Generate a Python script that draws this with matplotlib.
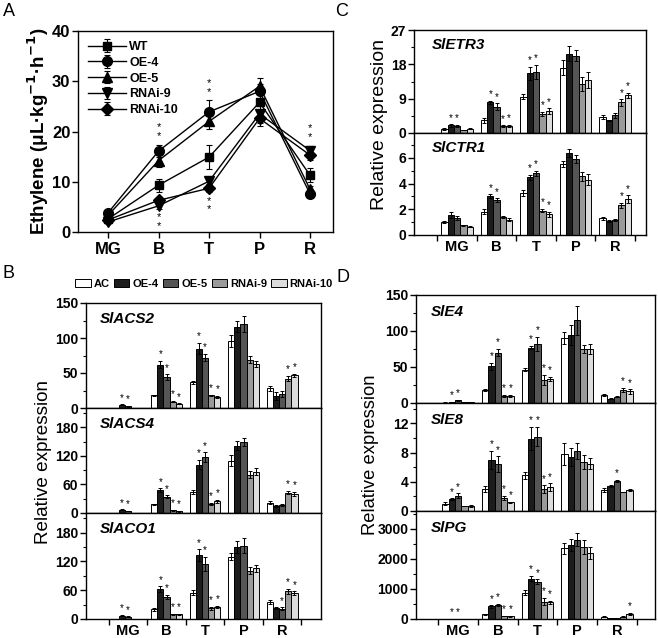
import matplotlib
matplotlib.use("Agg")
import matplotlib.pyplot as plt
import numpy as np
from matplotlib.ticker import AutoMinorLocator, FixedLocator
from matplotlib.patches import Patch

plt.rcParams['font.family'] = ['Liberation Sans', 'DejaVu Sans']
plt.rcParams['axes.linewidth'] = 1.0

# ---------------- data ----------------
stages = ['MG', 'B', 'T', 'P', 'R']
lines_a = ['WT', 'OE-4', 'OE-5', 'RNAi-9', 'RNAi-10']
lines_bar = ['AC', 'OE-4', 'OE-5', 'RNAi-9', 'RNAi-10']

# Panel A: ethylene
eth_wt = [2.6, 9.3, 14.9, 25.8, 11.3]
eth_oe4 = [3.8, 16.1, 23.9, 28.0, 7.6]
eth_oe5 = [3.3, 14.2, 22.0, 29.0, 8.5]
eth_r9 = [2.0, 5.2, 10.1, 23.5, 16.2]
eth_r10 = [2.4, 6.3, 8.7, 22.6, 15.3]
eth_wt_err = [0.4, 1.3, 2.4, 1.6, 1.4]
eth_oe4_err = [0.3, 1.2, 2.3, 1.5, 0.5]
eth_oe5_err = [0.3, 1.2, 1.6, 1.7, 0.6]
eth_r9_err = [0.3, 0.6, 0.8, 1.9, 1.0]
eth_r10_err = [0.3, 0.5, 0.8, 1.5, 1.0]
eth_star_above = [False, True, True, False, True]
eth_star_below = [False, True, True, False, False]

# Bar panels: rows = stages (MG,B,T,P,R), cols = AC, OE-4, OE-5, RNAi-9, RNAi-10
acs2 = [[0.5, 4.8, 2.5, 0.5, 0.3], [18, 62, 44, 9, 6], [37, 85, 72, 18, 16],
        [96, 116, 120, 69, 63], [28, 17, 20, 42, 47]]
acs2_err = [[0.2, 0.5, 0.4, 0.1, 0.1], [1, 5, 4, 1, 0.8], [2, 8, 5, 1, 1],
            [9, 8, 11, 5, 4], [4, 6, 4, 4, 2]]
acs2_star = [[0, 1, 1, 0, 0], [0, 1, 1, 1, 1], [0, 1, 1, 1, 1], [0, 0, 0, 0, 0], [0, 0, 0, 1, 1]]

acs4 = [[0.5, 7, 4, 0.5, 0.3], [18, 48, 34, 6, 4], [44, 102, 118, 19, 25],
        [110, 142, 149, 81, 87], [22, 14, 17, 43, 40]]
acs4_err = [[0.2, 1, 0.6, 0.1, 0.1], [1, 4, 3, 1, 1], [4, 10, 10, 2, 3],
            [12, 10, 9, 8, 7], [3, 2, 2, 4, 5]]
acs4_star = [[0, 1, 1, 0, 0], [0, 1, 1, 1, 1], [0, 1, 1, 1, 1], [0, 0, 0, 0, 0], [0, 0, 0, 1, 1]]

aco1 = [[0.5, 7, 5, 0.5, 0.3], [20, 62, 46, 10, 10], [55, 133, 115, 22, 25],
        [130, 150, 153, 101, 106], [36, 23, 21, 58, 54]]
aco1_err = [[0.2, 1, 0.6, 0.1, 0.1], [3, 6, 5, 1, 1], [5, 12, 14, 3, 3],
            [8, 12, 16, 8, 7], [4, 3, 3, 5, 4]]
aco1_star = [[0, 1, 1, 0, 0], [0, 1, 1, 1, 1], [0, 1, 1, 1, 1], [0, 0, 0, 0, 0], [0, 0, 1, 1, 1]]

etr3 = [[1.0, 2.0, 1.8, 0.8, 1.1], [3.3, 8.0, 6.9, 1.8, 1.9], [9.5, 15.6, 16.0, 5.0, 5.8],
        [17.1, 20.8, 20.3, 12.9, 13.9], [4.1, 3.3, 4.6, 8.0, 9.9]]
etr3_err = [[0.2, 0.3, 0.3, 0.1, 0.1], [0.6, 0.5, 0.9, 0.2, 0.2], [0.7, 1.8, 1.8, 0.6, 0.7],
            [2.0, 2.0, 1.5, 1.8, 2.2], [0.5, 0.2, 0.6, 0.8, 0.7]]
etr3_star = [[0, 1, 1, 0, 0], [0, 1, 1, 1, 1], [0, 1, 1, 1, 1], [0, 0, 0, 0, 0], [0, 0, 0, 1, 1]]

ctr1 = [[1.0, 1.55, 1.35, 0.75, 0.65], [1.8, 3.0, 2.7, 1.4, 1.2], [3.25, 4.5, 4.8, 1.9, 1.6],
        [5.5, 6.4, 5.9, 4.55, 4.3], [1.3, 1.1, 1.15, 2.3, 2.8]]
ctr1_err = [[0.1, 0.2, 0.15, 0.05, 0.05], [0.2, 0.15, 0.15, 0.1, 0.12], [0.25, 0.2, 0.2, 0.12, 0.2],
            [0.25, 0.3, 0.3, 0.35, 0.45], [0.1, 0.1, 0.1, 0.2, 0.3]]
ctr1_star = [[0, 0, 0, 0, 0], [0, 1, 1, 0, 0], [0, 1, 1, 1, 1], [0, 0, 0, 0, 0], [0, 0, 0, 1, 1]]

e4 = [[0.5, 1.5, 3.7, 1.0, 1.0], [18, 51, 70, 10, 10], [46, 77, 82, 32, 33],
      [90, 95, 115, 75, 75], [11, 6, 9, 18, 16]]
e4_err = [[0.2, 0.3, 0.5, 0.2, 0.2], [1, 5, 5, 1, 1], [2, 2, 10, 7, 3],
          [8, 14, 20, 6, 7], [1, 1, 0.5, 3, 3]]
e4_star = [[0, 1, 1, 0, 0], [0, 1, 1, 1, 1], [0, 1, 1, 1, 1], [0, 0, 0, 0, 0], [0, 0, 0, 1, 1]]

e8 = [[1.0, 1.6, 2.1, 0.7, 0.65], [3.0, 7.0, 6.4, 1.8, 1.2], [4.9, 9.9, 10.2, 3.0, 3.3],
      [7.8, 7.4, 8.2, 6.7, 6.5], [2.9, 3.4, 4.1, 2.6, 2.9]]
e8_err = [[0.2, 0.15, 0.3, 0.05, 0.15], [0.4, 1.2, 1.1, 0.3, 0.1], [0.5, 1.6, 1.3, 0.5, 0.5],
          [1.5, 1.2, 1.1, 1.0, 0.8], [0.3, 0.1, 0.15, 0.05, 0.1]]
e8_star = [[0, 1, 1, 0, 0], [0, 1, 1, 1, 1], [0, 1, 1, 1, 1], [0, 0, 0, 0, 0], [0, 0, 1, 0, 0]]

pg = [[2, 3, 3, 2, 2], [160, 420, 480, 100, 90], [880, 1350, 1240, 580, 560],
      [2360, 2480, 2640, 2400, 2200], [70, 30, 40, 80, 170]]
pg_err = [[1, 1, 1, 1, 1], [20, 40, 30, 10, 10], [80, 90, 80, 120, 50],
          [180, 200, 220, 230, 200], [15, 5, 5, 10, 30]]
pg_star = [[0, 1, 1, 0, 0], [0, 1, 1, 1, 1], [0, 1, 1, 1, 1], [0, 0, 0, 0, 0], [0, 0, 0, 0, 1]]

bar_colors = ['#ffffff', '#1c1c1c', '#555555', '#9a9a9a', '#dcdcdc']

# ---------------- layout helpers ----------------
W, H = 658, 638
fig = plt.figure(figsize=(W / 100, H / 100), dpi=100)


def rect(l, t, r, b):
    return [l / W, 1 - b / H, (r - l) / W, (b - t) / H]


TICKFS = 10
BOLD = 'bold'

# ---------------- Panel A ----------------
axA = fig.add_axes(rect(78, 31, 333, 232))
x = np.arange(len(stages))
markers = ['s', 'o', '^', 'v', 'D']
msizes = [6, 7, 7, 7, 6]
eth_all = [eth_wt, eth_oe4, eth_oe5, eth_r9, eth_r10]
eth_err_all = [eth_wt_err, eth_oe4_err, eth_oe5_err, eth_r9_err, eth_r10_err]
for k in range(5):
    axA.errorbar(x, eth_all[k], yerr=eth_err_all[k], color='black', lw=1.0,
                 marker=markers[k], ms=msizes[k], capsize=2, elinewidth=0.8,
                 capthick=0.8, label=lines_a[k])
eth_arr = np.array(eth_all)
eth_err_arr = np.array(eth_err_all)
for i in range(5):
    top = (eth_arr[:, i] + eth_err_arr[:, i]).max()
    bot = (eth_arr[:, i] - eth_err_arr[:, i]).min()
    if eth_star_above[i]:
        for off in (1.7, 3.5):
            axA.text(i, top + off, '*', ha='center', va='center', fontsize=8)
    if eth_star_below[i]:
        for off in (1.7, 3.4):
            axA.text(i, bot - off, '*', ha='center', va='center', fontsize=8)
axA.set_xlim(-0.594, 4.455)
axA.set_ylim(0, 40)
axA.set_yticks([0, 10, 20, 30, 40])
axA.set_xticks(x)
axA.set_xticklabels(stages)
axA.tick_params(axis='both', direction='out', labelsize=12, length=4, width=1)
axA.tick_params(axis='y', pad=1.5)
for lab in axA.get_xticklabels() + axA.get_yticklabels():
    lab.set_fontweight(BOLD)
leg = axA.legend(loc='upper left', frameon=False, handlelength=3.0,
                 handletextpad=0.3, labelspacing=0.3, borderaxespad=0.4,
                 prop={'weight': 'bold', 'size': 9})
fig.text(38 / W, 1 - 131 / H, 'Ethylene (μL·kg$^{\\mathbf{-1}}$·h$^{\\mathbf{-1}}$)',
         rotation=90, ha='center', va='center', fontsize=13.5, fontweight='bold')


# ---------------- bar subpanels ----------------
def bar_panel(ax, data, err, star, ylim, yticks, gene, xlim, bottom, gene_pos):
    data = np.array(data, dtype=float)
    err = np.array(err, dtype=float)
    bw = 0.16
    for j in range(5):
        xs = np.arange(5) + (j - 2) * bw
        ax.bar(xs, data[:, j], bw, color=bar_colors[j], edgecolor='black', lw=0.7,
               yerr=err[:, j], capsize=1.5,
               error_kw=dict(elinewidth=0.7, capthick=0.7, ecolor='black'))
        for i in range(5):
            if star[i][j]:
                ax.text(xs[i], data[i, j] + err[i, j] + ylim * 0.015, '*',
                        ha='center', va='bottom', fontsize=7)
    ax.set_xlim(*xlim)
    ax.set_ylim(0, ylim)
    ax.set_yticks(yticks)
    ax.yaxis.set_minor_locator(AutoMinorLocator(2))
    ax.tick_params(axis='y', which='major', direction='out', length=4, width=1,
                   labelsize=TICKFS, pad=1.5)
    ax.tick_params(axis='y', which='minor', direction='out', length=2, width=0.8)
    for lab in ax.get_yticklabels():
        lab.set_fontweight(BOLD)
    ax.text(gene_pos[0], gene_pos[1], gene, transform=ax.transAxes, ha='left',
            va='center', fontsize=11, fontweight='bold', style='italic')
    if bottom:
        ax.set_xticks(np.arange(5))
        ax.set_xticklabels(stages)
        ax.xaxis.set_minor_locator(FixedLocator(np.arange(-0.5, 5.0, 1.0)))
        ax.tick_params(axis='x', which='major', length=0, labelsize=TICKFS + 0.5, pad=3.5)
        ax.tick_params(axis='x', which='minor', direction='out', length=4, width=1)
        for lab in ax.get_xticklabels():
            lab.set_fontweight(BOLD)
    else:
        ax.set_xticks([])


# Panel B
xlimB = (-1.09, 5.01)
axB1 = fig.add_axes(rect(86, 303, 321, 408))
axB2 = fig.add_axes(rect(86, 408, 321, 513))
axB3 = fig.add_axes(rect(86, 513, 321, 619))
bar_panel(axB1, acs2, acs2_err, acs2_star, 150, [0, 50, 100, 150], 'SlACS2', xlimB, False, (0.06, 0.85))
bar_panel(axB2, acs4, acs4_err, acs4_star, 221, [0, 60, 120, 180], 'SlACS4', xlimB, False, (0.06, 0.85))
bar_panel(axB3, aco1, aco1_err, aco1_star, 221, [0, 60, 120, 180], 'SlACO1', xlimB, True, (0.06, 0.85))
fig.text(44 / W, 1 - 462 / H, 'Relative expression', rotation=90, ha='center',
         va='center', fontsize=13.6)

handles = [Patch(facecolor=c, edgecolor='black', lw=0.7) for c in bar_colors]
fig.legend(handles, lines_bar, loc='center', bbox_to_anchor=(204 / W, 1 - 284 / H),
           ncol=5, frameon=False, handlelength=1.4, handleheight=0.8,
           handletextpad=0.25, columnspacing=0.4, prop={'weight': 'bold', 'size': 8})

# Panel C
xlimC = (-1.09, 4.78)
axC1 = fig.add_axes(rect(414, 30, 646, 133))
axC2 = fig.add_axes(rect(414, 133, 646, 235))
bar_panel(axC1, etr3, etr3_err, etr3_star, 27, [0, 9, 18, 27], 'SlETR3', xlimC, False, (0.077, 0.85))
bar_panel(axC2, ctr1, ctr1_err, ctr1_star, 7.93, [0, 2, 4, 6], 'SlCTR1', xlimC, True, (0.077, 0.85))
fig.text(380 / W, 1 - 124 / H, 'Relative expression', rotation=90, ha='center',
         va='center', fontsize=14)

# Panel D
xlimD = (-1.06, 4.96)
axD1 = fig.add_axes(rect(416, 295, 655, 403))
axD2 = fig.add_axes(rect(416, 403, 655, 511))
axD3 = fig.add_axes(rect(416, 511, 655, 619))
bar_panel(axD1, e4, e4_err, e4_star, 150, [0, 50, 100, 150], 'SlE4', xlimD, False, (0.06, 0.84))
bar_panel(axD2, e8, e8_err, e8_star, 14.8, [0, 4, 8, 12], 'SlE8', xlimD, False, (0.06, 0.84))
bar_panel(axD3, pg, pg_err, pg_star, 3600, [0, 1000, 2000, 3000], 'SlPG', xlimD, True, (0.06, 0.84))
fig.text(370 / W, 1 - 455 / H, 'Relative expression', rotation=90, ha='center',
         va='center', fontsize=13.2)

# Panel letters
for letter, (px, py) in zip('ABCD', [(3, 12), (3, 274), (335, 11), (337, 277)]):
    fig.text(px / W, 1 - py / H, letter, ha='left', va='center', fontsize=13)

fig.savefig('out.png', dpi=100)
